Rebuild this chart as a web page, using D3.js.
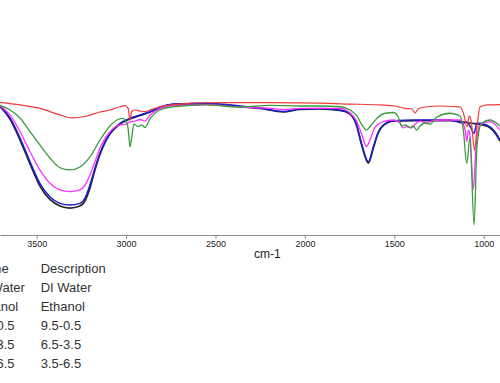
<!DOCTYPE html>
<html>
<head>
<meta charset="utf-8">
<script src="https://cdn.jsdelivr.net/npm/d3@7"></script>
<style>
  body { margin: 0; background: #fff; }
  svg { display: block; font-family: "Liberation Sans", Arial, sans-serif; }
</style>
</head>
<body>
<div id="chart"></div>
<script>
'use strict';

// spectra as [wavenumber cm-1, %T]
const ethanol = [
  [3705, 98.2], [3593, 96.2], [3482, 93.6], [3370, 88.5], [3303, 86.2], [3230, 87.3],
  [3146, 90.8], [3090, 92.3], [3034, 94.8], [3006, 95.6], [2989, 93.8], [2978, 84.6],
  [2969, 91.0], [2950, 92.3], [2922, 91.5], [2894, 91.0], [2866, 92.3], [2810, 94.8],
  [2699, 96.9], [2549, 97.9], [2307, 98.0], [2027, 97.8], [1748, 96.9], [1580, 96.2],
  [1496, 95.4], [1440, 93.5], [1401, 93.1], [1384, 90.0], [1367, 93.1], [1328, 94.6],
  [1244, 95.4], [1160, 95.0], [1132, 94.6], [1114, 90.0], [1092, 79.5], [1082, 87.7],
  [1071, 84.6], [1051, 61.5], [1038, 78.5], [1021, 94.6], [982, 96.2], [909, 96.5]
];

const mix35 = [
  [3705, 95.8], [3649, 92.3], [3593, 86.2], [3537, 75.6], [3482, 65.4], [3426, 55.4],
  [3370, 47.9], [3314, 46.2], [3258, 48.5], [3202, 56.2], [3146, 69.2], [3090, 80.0],
  [3051, 84.6], [3017, 85.8], [3000, 83.8], [2989, 78.5], [2978, 64.1], [2969, 70.8],
  [2956, 81.5], [2933, 79.5], [2912, 80.8], [2894, 78.8], [2866, 85.4], [2810, 92.3],
  [2738, 94.8], [2549, 96.2], [2363, 94.6], [2195, 95.8], [2027, 95.4], [1915, 95.4],
  [1804, 94.8], [1748, 92.3], [1709, 87.7], [1681, 80.8], [1656, 76.9], [1632, 80.0],
  [1596, 86.2], [1551, 89.8], [1507, 90.4], [1479, 87.3], [1459, 80.0], [1440, 80.8],
  [1412, 78.8], [1395, 80.0], [1375, 76.9], [1356, 80.0], [1328, 82.3], [1300, 81.5],
  [1262, 86.9], [1188, 89.8], [1132, 87.7], [1114, 76.9], [1095, 51.3], [1077, 70.8],
  [1054, 3.8], [1038, 63.8], [1012, 82.1], [965, 84.6], [909, 80.0]
];

const mix65 = [
  [3705, 95.4], [3649, 88.5], [3593, 75.6], [3537, 60.2], [3482, 46.2], [3426, 35.9],
  [3370, 30.8], [3314, 29.5], [3258, 30.8], [3230, 34.6], [3202, 42.3], [3174, 52.5],
  [3146, 62.8], [3090, 75.6], [3034, 80.8], [3006, 81.3], [2978, 83.1], [2950, 83.8],
  [2922, 85.0], [2894, 83.8], [2866, 88.5], [2810, 93.5], [2738, 95.8], [2549, 96.5],
  [2363, 94.6], [2195, 93.6], [2111, 92.7], [2027, 93.5], [1915, 93.5], [1804, 93.6],
  [1748, 90.0], [1714, 84.6], [1681, 73.1], [1656, 64.1], [1636, 69.2], [1608, 79.2],
  [1563, 83.3], [1507, 84.6], [1468, 82.3], [1451, 78.5], [1431, 79.5], [1403, 78.5],
  [1384, 81.3], [1356, 83.8], [1319, 82.1], [1300, 83.3], [1244, 84.6], [1132, 84.6],
  [1104, 76.9], [1095, 67.9], [1086, 76.9], [1077, 73.1], [1058, 31.5], [1043, 64.1],
  [1021, 80.8], [965, 83.3], [909, 76.9]
];

const mix95 = [
  [3705, 95.4], [3649, 86.2], [3593, 70.8], [3537, 52.5], [3482, 35.9], [3426, 25.6],
  [3370, 20.5], [3314, 19.2], [3258, 20.5], [3230, 24.4], [3202, 34.6], [3174, 47.5],
  [3146, 59.0], [3118, 67.9], [3090, 74.4], [3034, 82.1], [2978, 85.9], [2922, 88.5],
  [2866, 91.0], [2810, 94.6], [2738, 96.9], [2549, 97.5], [2363, 95.4], [2251, 93.8],
  [2122, 91.2], [2027, 93.1], [1915, 93.5], [1804, 92.3], [1748, 89.8], [1714, 82.3],
  [1681, 65.4], [1645, 52.5], [1617, 64.1], [1590, 75.4], [1561, 80.8], [1507, 84.1],
  [1375, 84.6], [1188, 84.6], [1114, 82.1], [1095, 83.1], [1077, 80.0], [1054, 74.4],
  [1038, 82.3], [984, 80.8], [937, 75.6], [909, 69.2]
];

const diWater = [
  [3705, 95.0], [3649, 85.4], [3593, 69.2], [3537, 50.8], [3482, 33.8], [3426, 23.5],
  [3370, 18.5], [3314, 16.9], [3258, 18.5], [3230, 22.3], [3202, 32.3], [3174, 46.2],
  [3146, 58.1], [3118, 67.3], [3090, 73.8], [3034, 81.5], [2978, 85.4], [2922, 88.1],
  [2866, 90.8], [2810, 94.2], [2738, 96.5], [2549, 96.9], [2363, 95.0], [2251, 93.5],
  [2122, 90.8], [2027, 92.7], [1915, 93.1], [1804, 91.9], [1748, 89.2], [1714, 81.5],
  [1681, 64.6], [1645, 51.5], [1617, 63.1], [1590, 74.6], [1561, 80.4], [1507, 83.8],
  [1375, 84.2], [1188, 84.2], [1077, 82.3], [984, 80.0], [937, 74.6], [909, 68.5]
];

const xTicks = [3500, 3000, 2500, 2000, 1500, 1000];
const legendNames = ["Name", "DI Water", "Ethanol", "9.5-0.5", "6.5-3.5", "3.5-6.5"];
const legendDescs = ["Description", "DI Water", "Ethanol", "9.5-0.5", "6.5-3.5", "3.5-6.5"];

const msm = {
  width: 500,
  height: 383,
  axisY: 235,
  plotTop: 100,
  plotBottom: 230
};

// drawn bottom to top, same as the picture
const series = [
  { data: diWater, color: '#262626', width: 1.7 },
  { data: mix95, color: '#1c1cd0', width: 1.5 },
  { data: mix65, color: '#ff30ff', width: 1.3 },
  { data: mix35, color: '#3b9a3b', width: 1.3 },
  { data: ethanol, color: '#f03a3a', width: 1.2 }
];

window.onload = function() {
  let svg = d3.select('#chart')
    .append('svg')
    .attr('width', msm.width)
    .attr('height', msm.height);

  let xScale = d3.scaleLinear()
    .domain([3705, 909])
    .range([0, msm.width]);

  let yScale = d3.scaleLinear()
    .domain([0, 100])
    .range([msm.plotBottom, msm.plotTop]);

  drawSpectra(svg, xScale, yScale);
  drawAxis(svg, xScale);
  drawLegend(svg);
}

function drawSpectra(svg, xScale, yScale) {
  let line = d3.line()
    .x((d) => xScale(d[0]))
    .y((d) => yScale(d[1]))
    .curve(d3.curveMonotoneX);

  series.forEach((s) => {
    svg.append('path')
      .datum(s.data)
      .attr('fill', 'none')
      .attr('stroke', s.color)
      .attr('stroke-width', s.width)
      .attr('stroke-linejoin', 'round')
      .attr('d', line);
  });
}

function drawAxis(svg, xScale) {
  let xAxis = d3.axisBottom(xScale)
    .tickValues(xTicks)
    .tickSize(4)
    .tickSizeOuter(0)
    .tickPadding(2)
    .tickFormat(d3.format('d'));

  let g = svg.append('g')
    .attr('transform', 'translate(0, ' + msm.axisY + ')')
    .call(xAxis);

  g.select('.domain').attr('stroke', '#8a8a8a');
  g.selectAll('.tick line').attr('stroke', '#8a8a8a');
  g.selectAll('.tick text')
    .attr('fill', '#222')
    .style('font-size', '9px')
    .style('font-family', '"Liberation Sans", Arial, sans-serif');

  svg.append('text')
    .attr('x', 254)
    .attr('y', 258)
    .attr('fill', '#222')
    .style('font-size', '12px')
    .text('cm-1');
}

// the name column runs off the left edge, as in the cropped original
function drawLegend(svg) {
  let rowY = (i) => 272.5 + i * 19;

  svg.selectAll('.legName')
    .data(legendNames)
    .enter()
    .append('text')
      .attr('class', 'legName')
      .attr('x', -26)
      .attr('y', (d, i) => rowY(i))
      .attr('fill', '#333')
      .style('font-size', '13px')
      .text((d) => d);

  svg.selectAll('.legDesc')
    .data(legendDescs)
    .enter()
    .append('text')
      .attr('class', 'legDesc')
      .attr('x', 40.7)
      .attr('y', (d, i) => rowY(i))
      .attr('fill', '#333')
      .style('font-size', '13px')
      .text((d) => d);
}
</script>
</body>
</html>
